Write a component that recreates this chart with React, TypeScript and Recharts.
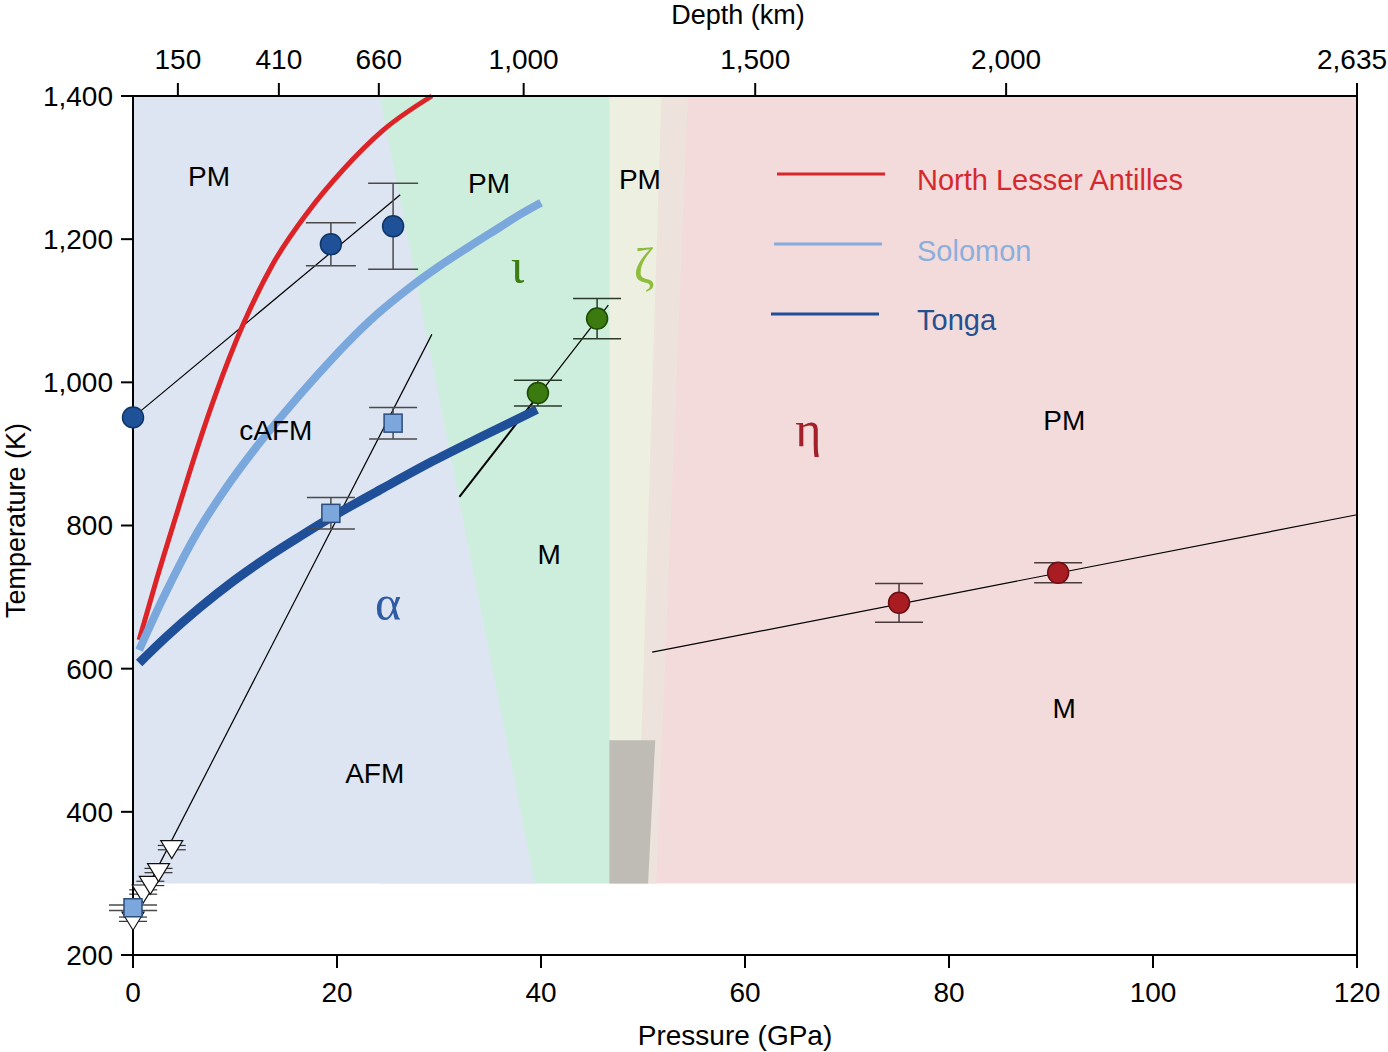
import React from 'react';
import {
  ComposedChart, XAxis, YAxis, Area, Line, Scatter, ErrorBar,
  ReferenceLine, ReferenceDot, Legend,
} from 'recharts';

// ---------- axes ----------
const P_TICKS = [0, 20, 40, 60, 80, 100, 120];
const T_TICKS = [200, 400, 600, 800, 1000, 1200, 1400];
const DEPTH_LABELS = ['150', '410', '660', '1,000', '1,500', '2,000', '2,635'];
const DEPTH_PRESSURES = [4.4, 14.3, 24.1, 38.3, 61.0, 85.6, 120];

// ---------- phase regions (pressure p, temperature t) ----------
const regionEta = [{ p: 46.7, t: 1400 }, { p: 120, t: 1400 }];
const regionBand = [{ p: 46.7, t: 1400 }, { p: 54.4, t: 1400 }, { p: 51.3, t: 300 }];
const regionZeta = [{ p: 46.7, t: 1400 }, { p: 51.8, t: 1400 }, { p: 49.4, t: 300 }];
const regionIota = [{ p: 24.2, t: 1400 }, { p: 46.7, t: 1400 }, { p: 46.7, t: 300 }];
const regionAlpha = [{ p: 0, t: 1400 }, { p: 24.2, t: 1400 }, { p: 39.4, t: 300 }];
const regionGray = [{ p: 46.7, t: 500 }, { p: 51.2, t: 500 }, { p: 50.5, t: 300 }];

// ---------- slab geotherms ----------
const northLesserAntilles = [
  { p: 0.6, t: 640 }, { p: 2.3, t: 724 }, { p: 4.3, t: 817 }, { p: 6.3, t: 908 },
  { p: 8.2, t: 987 }, { p: 10.8, t: 1081 }, { p: 13.7, t: 1165 }, { p: 17.1, t: 1237 },
  { p: 20.6, t: 1297 }, { p: 24.5, t: 1352 }, { p: 29.3, t: 1400 },
];
const solomon = [
  { p: 0.6, t: 626 }, { p: 3, t: 700 }, { p: 6, t: 783 }, { p: 9, t: 850 },
  { p: 12, t: 908 }, { p: 15, t: 960 }, { p: 18, t: 1009 }, { p: 21, t: 1055 },
  { p: 24, t: 1096 }, { p: 27, t: 1131 }, { p: 30, t: 1162 }, { p: 33, t: 1190 },
  { p: 36, t: 1217 }, { p: 38, t: 1235 }, { p: 40, t: 1251 },
];
const tonga = [
  { p: 0.6, t: 608 }, { p: 3.3, t: 645 }, { p: 6.6, t: 686 }, { p: 9.8, t: 722 },
  { p: 13.1, t: 755 }, { p: 16.4, t: 785 }, { p: 19.5, t: 812 }, { p: 24.5, t: 852 },
  { p: 29.4, t: 890 }, { p: 34.3, t: 925 }, { p: 39.6, t: 962 },
];

// ---------- measurements ----------
const blueCircleAmbient = [{ p: 0, t: 951 }];
const blueCircles = [{ p: 19.4, t: 1193, e: 30 }, { p: 25.5, t: 1218, e: 60 }];
const blueSquares = [{ p: 0, t: 266, e: 4 }, { p: 19.4, t: 817, e: 22 }, { p: 25.5, t: 943, e: 22 }];
const triangles = [
  { p: 0, t: 250, e: 3 }, { p: 1.0, t: 288, e: 3 }, { p: 1.7, t: 300, e: 3 },
  { p: 2.5, t: 318, e: 3 }, { p: 3.8, t: 350, e: 3 },
];
const greenCircles = [{ p: 39.7, t: 985, e: 18 }, { p: 45.5, t: 1089, e: 28 }];
const redCircles = [{ p: 75.1, t: 692, e: 27 }, { p: 90.7, t: 734, e: 14 }];

// ---------- fitted boundaries ----------
const fitBlue = [{ p: 0, t: 951 }, { p: 26.2, t: 1262 }];
const fitSquares = [{ p: 0, t: 255 }, { p: 29.3, t: 1067 }];
const fitGreenLow = [{ p: 32.0, t: 840 }, { p: 39.7, t: 981 }];
const fitGreenHigh = [{ p: 39.7, t: 981 }, { p: 46.6, t: 1108 }];
const fitRed = [{ p: 50.9, t: 623 }, { p: 120, t: 815 }];

// ---------- labels ----------
const phaseLabels = [
  { p: 7.45, t: 1287, text: 'PM' },
  { p: 34.9, t: 1278, text: 'PM' },
  { p: 49.7, t: 1283, text: 'PM' },
  { p: 91.3, t: 947, text: 'PM' },
  { p: 14.0, t: 933, text: 'cAFM' },
  { p: 23.7, t: 453, text: 'AFM' },
  { p: 40.8, t: 759, text: 'M' },
  { p: 91.3, t: 544, text: 'M' },
];
const greekLabels = [
  { p: 25.0, t: 692, text: 'α', color: '#2f5ba3' },
  { p: 37.7, t: 1162, text: 'ι', color: '#3d7d12' },
  { p: 50.1, t: 1162, text: 'ζ', color: '#8dbd3a' },
  { p: 66.2, t: 935, text: 'η', color: '#a3202a' },
];
const legendItems = [
  { name: 'North Lesser Antilles', color: '#d9262b', text: '#d42a2e' },
  { name: 'Solomon', color: '#86acdc', text: '#8aafdc' },
  { name: 'Tonga', color: '#1f4f98', text: '#24508f' },
];

const FONT = 'Liberation Sans, Arial, Helvetica, sans-serif';
const SERIF = 'Liberation Serif, DejaVu Serif, serif';

const fmt = (v: number) => v.toLocaleString('en-US');

const makeLabel = (text: string, color: string, size: number, family: string) => (props: any) => {
  const vb = props.viewBox || {};
  const x = (vb.x || 0) + (vb.width || 0) / 2;
  const y = (vb.y || 0) + (vb.height || 0) / 2;
  return (
    <text x={x} y={y} textAnchor="middle" dominantBaseline="central" fill={color} fontSize={size} fontFamily={family}>
      {text}
    </text>
  );
};

const circleShape = (fill: string, stroke: string) => (props: any) => (
  <circle cx={props.cx} cy={props.cy} r={10.5} fill={fill} stroke={stroke} strokeWidth={1.5} />
);
const squareShape = (props: any) => (
  <rect x={props.cx - 9} y={props.cy - 9} width={18} height={18} fill="#7ba7dc" stroke="#2c4c7c" strokeWidth={1.5} />
);
const triangleShape = (props: any) => (
  <polygon
    points={`${props.cx - 11},${props.cy - 7} ${props.cx + 11},${props.cy - 7} ${props.cx},${props.cy + 11}`}
    fill="#ffffff" stroke="#111" strokeWidth={1.2}
  />
);

const TopTick = (props: any) => {
  const { x, y, payload } = props;
  const idx = DEPTH_PRESSURES.indexOf(payload.value);
  const label = idx >= 0 ? DEPTH_LABELS[idx] : '';
  const shift = idx === DEPTH_PRESSURES.length - 1 ? -5 : 0;
  return (
    <text x={x + shift} y={y} textAnchor="middle" fill="#000" fontSize={28} fontFamily={FONT}>
      {label}
    </text>
  );
};

const renderLegend = () => (
  <svg width={460} height={200}>
    {legendItems.map((it, i) => {
      const ly = 24 + i * 70;
      const lx = 17 - i * 3;
      return (
        <g key={it.name}>
          <line x1={lx} x2={lx + 108} y1={ly} y2={ly} stroke={it.color} strokeWidth={3} />
          <text x={157} y={ly + 6 + (i === 1 ? 1 : 0)} dominantBaseline="central" fill={it.text} fontSize={29} fontFamily={FONT}>
            {it.name}
          </text>
        </g>
      );
    })}
  </svg>
);

const areaProps = {
  xAxisId: 'b',
  dataKey: 't',
  type: 'linear' as const,
  baseValue: 300,
  stroke: 'none',
  fillOpacity: 1,
  isAnimationActive: false,
  dot: false,
  activeDot: false,
  legendType: 'none' as const,
};

const fitProps = {
  xAxisId: 'b',
  dataKey: 't',
  type: 'linear' as const,
  stroke: '#000',
  dot: false,
  activeDot: false,
  isAnimationActive: false,
  legendType: 'none' as const,
};

export default function App() {
  return (
    <div style={{ position: 'absolute', left: 0, top: 0, width: 1388, height: 1052, background: '#fff' }}>
      <ComposedChart width={1388} height={1052} margin={{ top: 0, right: 31, bottom: 0, left: 0 }}>
        <XAxis
          xAxisId="b"
          type="number"
          dataKey="p"
          domain={[0, 120]}
          ticks={P_TICKS}
          height={97}
          tickSize={13}
          tickMargin={14}
          axisLine={{ stroke: '#000', strokeWidth: 2 }}
          tickLine={{ stroke: '#000', strokeWidth: 2 }}
          tick={{ fill: '#000', fontSize: 28, fontFamily: FONT }}
          label={(props: any) => {
            const vb = props.viewBox || {};
            return (
              <text x={vb.x + vb.width / 2 - 10} y={1035} textAnchor="middle" dominantBaseline="central" fill="#000" fontSize={28} fontFamily={FONT}>
                Pressure (GPa)
              </text>
            );
          }}
        />
        <XAxis
          xAxisId="t"
          orientation="top"
          type="number"
          dataKey="p"
          domain={[0, 120]}
          allowDataOverflow
          ticks={DEPTH_PRESSURES}
          height={96}
          tickSize={13}
          tickMargin={14}
          axisLine={{ stroke: '#000', strokeWidth: 2 }}
          tickLine={{ stroke: '#000', strokeWidth: 2 }}
          tick={<TopTick />}
          label={(props: any) => {
            const vb = props.viewBox || {};
            return (
              <text x={vb.x + vb.width / 2 - 7} y={15} textAnchor="middle" dominantBaseline="central" fill="#000" fontSize={27} fontFamily={FONT}>
                Depth (km)
              </text>
            );
          }}
        />
        <YAxis
          type="number"
          dataKey="t"
          domain={[200, 1400]}
          ticks={T_TICKS}
          width={133}
          tickSize={12}
          tickMargin={8}
          tickFormatter={fmt}
          axisLine={{ stroke: '#000', strokeWidth: 2 }}
          tickLine={{ stroke: '#000', strokeWidth: 2 }}
          tick={{ fill: '#000', fontSize: 28, fontFamily: FONT }}
          label={(props: any) => {
            const vb = props.viewBox || {};
            const cy = vb.y + vb.height / 2 - 5;
            return (
              <text x={16} y={cy} transform={`rotate(-90, 16, ${cy})`} textAnchor="middle" dominantBaseline="central" fill="#000" fontSize={27} fontFamily={FONT}>
                Temperature (K)
              </text>
            );
          }}
        />

        {/* phase regions */}
        <Area {...areaProps} data={regionEta} fill="#f3dbdb" />
        <Area {...areaProps} data={regionBand} fill="#eee2dc" />
        <Area {...areaProps} data={regionZeta} fill="#edf0e0" />
        <Area {...areaProps} data={regionIota} fill="#cdeedc" />
        <Area {...areaProps} data={regionAlpha} fill="#dce5f1" />
        <Area {...areaProps} data={regionGray} fill="#bfbcb5" />

        {/* fitted boundaries */}
        <Line {...fitProps} data={fitBlue} strokeWidth={1.2} />
        <Line {...fitProps} data={fitSquares} strokeWidth={1.2} />
        <Line {...fitProps} data={fitGreenLow} strokeWidth={2} />
        <Line {...fitProps} data={fitGreenHigh} strokeWidth={1.2} />
        <Line {...fitProps} data={fitRed} strokeWidth={1.2} />

        {/* slab geotherms */}
        <Line xAxisId="b" data={northLesserAntilles} dataKey="t" name="North Lesser Antilles" type="monotone" stroke="#dc2428" strokeWidth={5} dot={false} activeDot={false} isAnimationActive={false} />
        <Line xAxisId="b" data={solomon} dataKey="t" name="Solomon" type="monotone" stroke="#7ba8dc" strokeWidth={8} dot={false} activeDot={false} isAnimationActive={false} />
        <Line xAxisId="b" data={tonga} dataKey="t" name="Tonga" type="monotone" stroke="#1f4f98" strokeWidth={9} dot={false} activeDot={false} isAnimationActive={false} />

        {/* measurements */}
        <Scatter xAxisId="b" data={triangles} dataKey="t" shape={triangleShape} isAnimationActive={false} legendType="none">
          <ErrorBar dataKey="e" direction="y" width={14} stroke="#333" strokeWidth={1.2} />
        </Scatter>
        <Scatter xAxisId="b" data={blueSquares} dataKey="t" shape={squareShape} isAnimationActive={false} legendType="none">
          <ErrorBar dataKey="e" direction="y" width={24} stroke="#4a4a4a" strokeWidth={1.5} />
        </Scatter>
        <Scatter xAxisId="b" data={blueCircleAmbient} dataKey="t" shape={circleShape('#1f5199', '#0f3566')} isAnimationActive={false} legendType="none" />
        <Scatter xAxisId="b" data={blueCircles} dataKey="t" shape={circleShape('#1f5199', '#0f3566')} isAnimationActive={false} legendType="none">
          <ErrorBar dataKey="e" direction="y" width={25} stroke="#4a4a4a" strokeWidth={1.5} />
        </Scatter>
        <Scatter xAxisId="b" data={greenCircles} dataKey="t" shape={circleShape('#3a7a0e', '#1b4a05')} isAnimationActive={false} legendType="none">
          <ErrorBar dataKey="e" direction="y" width={24} stroke="#2a3a2a" strokeWidth={1.5} />
        </Scatter>
        <Scatter xAxisId="b" data={redCircles} dataKey="t" shape={circleShape('#a91c22', '#6a0f14')} isAnimationActive={false} legendType="none">
          <ErrorBar dataKey="e" direction="y" width={24} stroke="#4a3a3a" strokeWidth={1.5} />
        </Scatter>

        {/* right frame */}
        <ReferenceLine xAxisId="b" x={120} stroke="#000" strokeWidth={2} />

        {/* phase labels */}
        {phaseLabels.map((l, i) => (
          <ReferenceDot key={`pl${i}`} xAxisId="b" x={l.p} y={l.t} r={0} fill="none" stroke="none"
            label={makeLabel(l.text, '#000', 28, FONT)} />
        ))}
        {greekLabels.map((l, i) => (
          <ReferenceDot key={`gl${i}`} xAxisId="b" x={l.p} y={l.t} r={0} fill="none" stroke="none"
            label={makeLabel(l.text, l.color, 50, SERIF)} />
        ))}

        <Legend
          layout="vertical"
          align="center"
          verticalAlign="middle"
          content={renderLegend}
          wrapperStyle={{ left: 760, top: 150, width: 460, height: 200 }}
        />
      </ComposedChart>
    </div>
  );
}
